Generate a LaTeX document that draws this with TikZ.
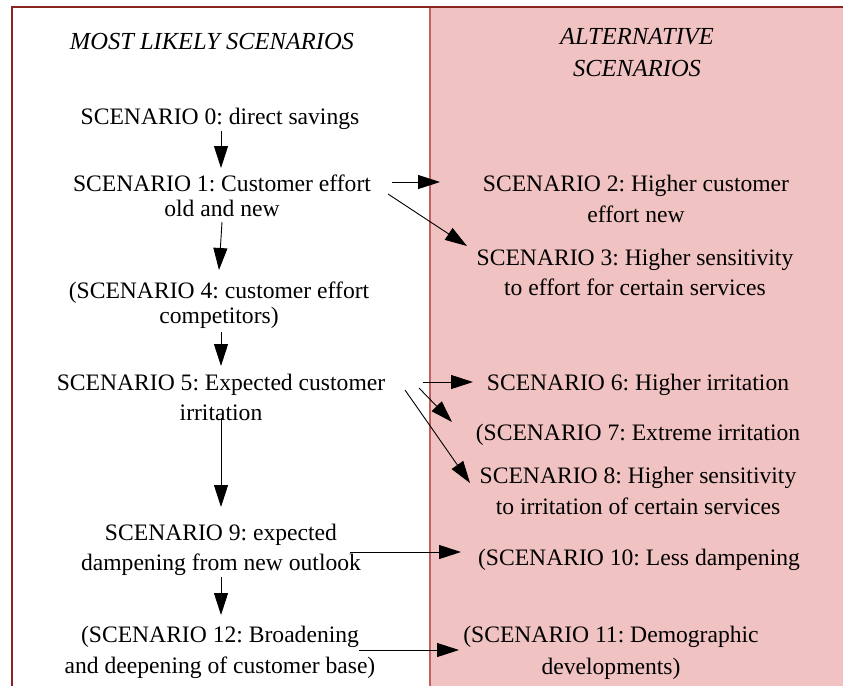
\documentclass[tikz,border=0pt]{standalone}
\usepackage{fontspec}
\setmainfont{Liberation Serif}
\usetikzlibrary{arrows.meta,calc}
\definecolor{pinkfill}{RGB}{241,194,194}
\definecolor{borderred}{RGB}{140,35,35}
\definecolor{divred}{RGB}{195,95,95}
\tikzset{
  lbl/.style={anchor=north,align=center,inner sep=0pt,font=\fontsize{23.6pt}{30pt}\selectfont},
  tight/.style={font=\fontsize{23.6pt}{25pt}\selectfont},
  head/.style={anchor=north,align=center,inner sep=0pt,font=\fontsize{24.5pt}{32pt}\selectfont\itshape},
  arr/.style={line width=0.9pt,-{Triangle[length=22pt,width=14pt]}}
}
\frenchspacing
\begin{document}
\begin{tikzpicture}[x=1pt,y=-1pt]
\useasboundingbox (0,0) rectangle (843,686);
\fill[white] (0,0) rectangle (843,686);
\fill[pinkfill] (430,7) rectangle (843,686);
\draw[divred,line width=1.2pt] (430,7) -- (430,686);
\draw[borderred,line width=1.3pt] (12,686) -- (12,7) -- (843,7);

\node[head] (h1) at (212,33) {MOST LIKELY SCENARIOS};
\node[head] (h2) at (637,28) {ALTERNATIVE\\SCENARIOS};

\node[lbl] (s0) at (220,107.5) {SCENARIO 0: direct savings};
\node[lbl,tight] (s1) at (222,174.5) {SCENARIO 1: Customer effort\\old and new};
\node[lbl,tight] (s4) at (219,281.5) {(SCENARIO 4: customer effort\\competitors)};
\node[lbl] (s5) at (221,373.5) {SCENARIO 5: Expected customer\\irritation};
\node[lbl] (s9) at (221,523.5) {SCENARIO 9: expected\\dampening from new outlook};
\node[lbl,font=\fontsize{23.6pt}{31pt}\selectfont] (s12) at (220,625.5) {(SCENARIO 12: Broadening\\and deepening of customer base)};

\node[lbl,font=\fontsize{23.6pt}{31pt}\selectfont] (s2) at (636,174.5) {SCENARIO 2: Higher customer\\effort new};
\node[lbl] (s3) at (635,248.5) {SCENARIO 3: Higher sensitivity\\to effort for certain services};
\node[lbl] (s6) at (638,373.5) {SCENARIO 6: Higher irritation};
\node[lbl] (s7) at (638,423.5) {(SCENARIO 7: Extreme irritation};
\node[lbl,font=\fontsize{23.6pt}{31pt}\selectfont] (s8) at (638,466.5) {SCENARIO 8: Higher sensitivity\\to irritation of certain services};
\node[lbl] (s10) at (639,548.5) {(SCENARIO 10: Less dampening};
\node[lbl,font=\fontsize{23.6pt}{32pt}\selectfont] (s11) at (611,625.5) {(SCENARIO 11: Demographic\\developments)};

\draw[arr] ($(s0.north)+(1,23.5)$) -- ($(s1.north)+(-1,-6.5)$);
\draw[arr] ($(s1.north)+(0,47.5)$) -- ($(s4.north)+(0,-11.5)$);
\draw[arr] ($(s4.north)+(2,50.5)$) -- ($(s5.north)+(0,-7.5)$);
\draw[arr] ($(s5.north)+(0,44.5)$) -- ($(s9.north)+(0,-16.5)$);
\draw[arr] ($(s9.north)+(0,53.5)$) -- ($(s12.north)+(1,-10.5)$);

\draw[arr] ($(s1.north)+(170,7.5)$) -- ($(s2.north)+(-196,7.5)$);
\draw[arr] ($(s1.north)+(166,19.5)$) -- ($(s3.north)+(-168,-2.5)$);
\draw[arr] ($(s5.north)+(202,8.5)$) -- ($(s6.north)+(-165,8.5)$);
\draw[arr] ($(s5.north)+(198,14.5)$) -- ($(s7.north)+(-186,-1.5)$);
\draw[arr] ($(s5.north)+(184,16.5)$) -- ($(s8.north)+(-168,16.5)$);
\draw[arr] ($(s9.north)+(129,28.5)$) -- ($(s10.north)+(-178,3.5)$);
\draw[arr] ($(s12.north)+(139,24.5)$) -- ($(s11.north)+(-152,24.5)$);
\end{tikzpicture}
\end{document}
